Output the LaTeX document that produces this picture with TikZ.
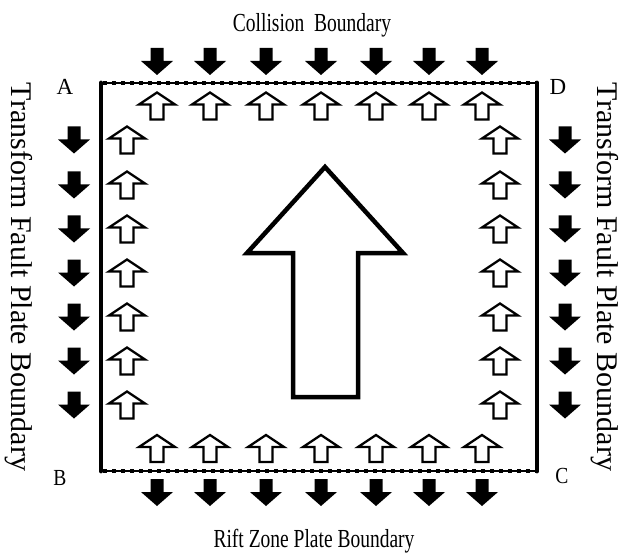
\documentclass[tikz,border=0pt]{standalone}
\usepackage{fontspec}
\setmainfont{Liberation Serif}
\begin{document}
\begin{tikzpicture}[x=1pt,y=-1pt,
  sdown/.pic={\fill[black] (-6.5,-13.5) -- (6.5,-13.5) -- (6.5,-0.5) -- (16,-0.5) -- (0,13.5) -- (-16,-0.5) -- (-6.5,-0.5) -- cycle;},
  oup/.pic={\draw[black,fill=white,line width=2.3pt,line join=miter] (0,-13.5) -- (18,-1.5) -- (6.5,-1.5) -- (6.5,13.5) -- (-6.5,13.5) -- (-6.5,-1.5) -- (-18,-1.5) -- cycle;},
  lbl/.style={inner sep=0pt,font=\fontsize{26}{26}\selectfont},
  sidelbl/.style={inner sep=0pt,font=\fontsize{30}{30}\selectfont,rotate=-90,anchor=base},
  corner/.style={inner sep=0pt,anchor=base,font=\fontsize{23}{23}\selectfont},
  edge/.style={line width=4.8pt},
  dotedge/.style={line width=4.5pt,dash pattern=on 4pt off 5pt}]
\useasboundingbox (0,0) rectangle (623,553);
% edges
\draw[edge,line cap=round] (101,83) -- (101,471);
\draw[edge,line cap=round] (537,83) -- (537,471);
\draw[line width=1.5pt] (101,83) -- (537,83);
\draw[line width=1.5pt] (101,471) -- (537,471);
\draw[dotedge] (103,83) -- (537,83);
\draw[dotedge] (103,471) -- (537,471);
% top and bottom arrows
\foreach \x in {157,210,266,321,376,429,482} {
  \pic at (\x,61.5) {sdown};
  \pic at (\x,106) {oup};
  \pic at (\x,448.5) {oup};
  \pic at (\x,492.5) {sdown};
}
% side arrows
\foreach \y in {140,185,229,273,317,361,405} {
  \pic at (74,\y) {sdown};
  \pic at (127,\y) {oup};
  \pic at (500,\y) {oup};
  \pic at (565,\y) {sdown};
}
% big arrow
\draw[line width=4.5pt,line join=miter,fill=white] (325,167) -- (247,253) -- (293,253) -- (293,397) -- (358,397) -- (358,253) -- (403,253) -- cycle;
% labels
\node[lbl,anchor=base] (top) at (312,32) {\scalebox{0.75}[1]{Collision\ \ Boundary}};
\node[lbl,anchor=base] (bot) at (314,547) {\scalebox{0.75}[1]{Rift Zone Plate Boundary}};
\node[sidelbl] (left) at (12,277) {Transform Fault Plate Boundary};
\node[sidelbl] (right) at (597,277) {Transform Fault Plate Boundary};
\node[corner] (A) at (65,95) {A};
\node[corner] (D) at (558,95) {D};
\node[corner] (B) at (60,485) {\scalebox{0.85}[1]{B}};
\node[corner] (C) at (562,483) {\scalebox{0.85}[1]{C}};
\end{tikzpicture}
\end{document}
